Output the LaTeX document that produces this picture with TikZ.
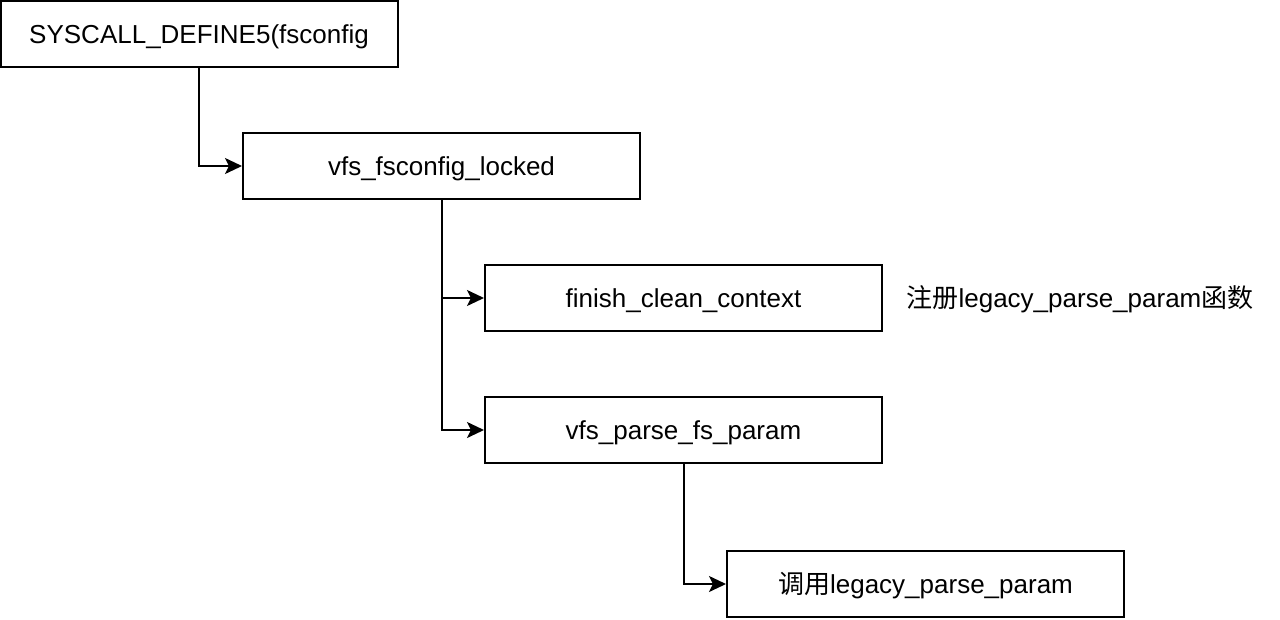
\documentclass[tikz,border=0pt]{standalone}
\usepackage{fontspec}
\setmainfont{Liberation Sans}
\newfontfamily\cjk{Noto Sans CJK SC}
\usetikzlibrary{arrows.meta}

\begin{document}
\begin{tikzpicture}[x=1pt,y=-1pt,>={Stealth[length=17pt,width=16pt,inset=4pt]},
    font=\fontsize{26}{30}\selectfont,line width=2pt,
    callbox/.style={draw,minimum width=397pt,minimum height=66pt,inner sep=0pt,
        text height=18pt,text depth=0pt},
    notetext/.style={text height=18pt,text depth=0pt}]

    \useasboundingbox (0,0) rectangle (1280,619);

    % Call chain
    \node [callbox] (sys) at (199,34) {SYSCALL\_DEFINE5(fsconfig};
    \node [callbox] (locked) at (441.5,166) {vfs\_fsconfig\_locked};
    \node [callbox] (clean) at (683.5,298) {finish\_clean\_context};
    \node [callbox] (parse) at (683.5,430) {vfs\_parse\_fs\_param};
    \node [callbox] (legacy) at (925.5,584) {{\cjk 调用}legacy\_parse\_param};

    % Note
    \node [notetext] (note) at (1080,298) {{\cjk 注册}legacy\_parse\_param{\cjk 函数}};

    % Connectors
    \draw [->] (sys.south) |- (locked.west);
    \draw [->] (locked.south) |- (clean.west);
    \draw [->] (locked.south) |- (parse.west);
    \draw [->] (parse.south) |- (legacy.west);

\end{tikzpicture}
\end{document}
